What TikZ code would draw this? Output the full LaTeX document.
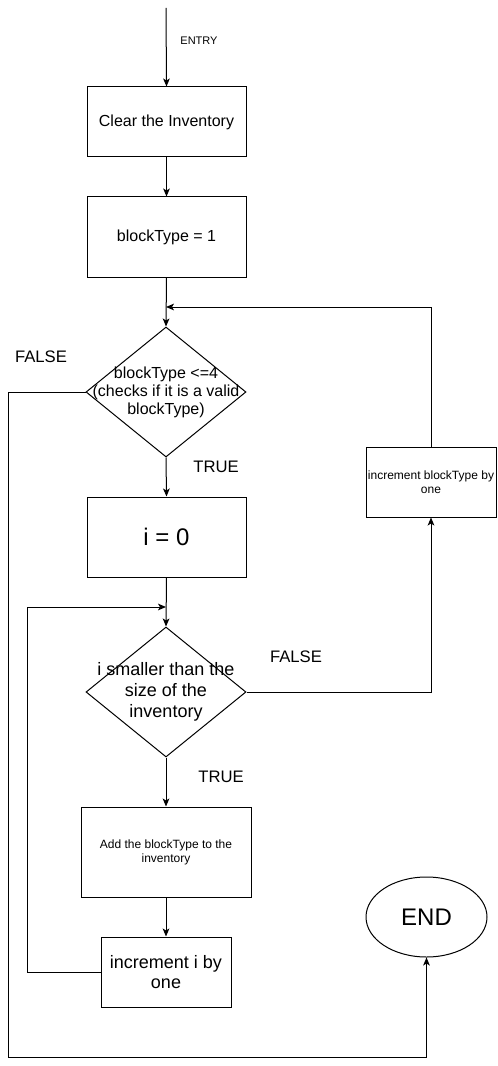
\documentclass[tikz,border=0pt]{standalone}
\usepackage{fontspec}
\setmainfont{Liberation Sans}
\usetikzlibrary{arrows.meta,shapes.geometric}
\begin{document}
\begin{tikzpicture}[x=0.75pt,y=-0.75pt,
  every path/.style={line width=0.75pt},
  conn/.style={draw,line width=0.75pt,-{Stealth[length=6pt,width=5pt,inset=1.5pt]}},
  line/.style={draw,line width=0.75pt},
  box/.style={draw,rectangle,inner sep=0pt,align=center},
  dia/.style={draw,diamond,inner sep=0pt,minimum width=120pt,minimum height=97.5pt},
  lbl/.style={font=\fontsize{12.5}{14}\selectfont,inner sep=0pt}
]
\useasboundingbox (0,0) rectangle (497,1066);
\fill[white] (0,0) rectangle (497,1066);

\coordinate (start) at (166,8);
\node[box,minimum width=119.25pt,minimum height=52.5pt,font=\fontsize{12}{14}\selectfont] (clear) at (166.5,122) {Clear the Inventory};
\node[box,minimum width=119.25pt,minimum height=60pt,font=\fontsize{12}{14}\selectfont] (bt1) at (166.5,237) {blockType = 1};
\node[dia,label={[align=center,font=\fontsize{12}{13.5}\selectfont]center:blockType <=4\\(checks if it is a valid\\blockType)}] (d1) at (166,392) {};
\node[box,minimum width=119.25pt,minimum height=60pt,font=\fontsize{18}{20}\selectfont] (i0) at (166.5,537) {i = 0};
\node[dia,label={[align=center,font=\fontsize{13.5}{15.5}\selectfont]center:i smaller than the\\size of the\\inventory}] (d2) at (166,692) {};
\node[box,minimum width=97.5pt,minimum height=52.5pt,font=\fontsize{9}{10.5}\selectfont] (incbt) at (431,482) {increment blockType by\\one};
\node[box,minimum width=127.5pt,minimum height=67.5pt,font=\fontsize{9}{10.5}\selectfont] (add) at (166,852) {Add the blockType to the\\inventory};
\node[box,minimum width=97.5pt,minimum height=52.5pt,font=\fontsize{13.5}{15.5}\selectfont] (inci) at (166,972) {increment i by\\one};
\node[draw,ellipse,inner sep=0pt,minimum width=90.75pt,minimum height=60pt,font=\fontsize{18}{20}\selectfont] (end) at (426.5,917) {END};

\coordinate (j1) at (166,307);
\coordinate (j2) at (166,607);

\node[font=\fontsize{8.25}{10}\selectfont,inner sep=0pt] (entry) at (199,41) {ENTRY};
\node[lbl] (f1) at (41,357) {FALSE};
\node[lbl] (t1) at (216,467) {TRUE};
\node[lbl] (f2) at (296,657) {FALSE};
\node[lbl] (t2) at (221,777) {TRUE};

\draw[conn] (start) -- (clear.north);
\draw[conn] (clear.south) -- (bt1.north);
\draw[conn] (bt1.south) -- (d1.north);
\draw[conn] (d1.south) -- (i0.north);
\draw[conn] (i0.south) -- (d2.north);
\draw[conn] (d2.south) -- (add.north);
\draw[conn] (add.south) -- (inci.north);
\draw[conn] (incbt.north) |- (j1);
\draw[conn] (d2.east) -| (incbt.south);
\draw[conn] (inci.west) -- (27,972) |- (j2);
\draw[conn] (d1.west) -- (8,392) -- (8,1057) -| (end.south);
\end{tikzpicture}
\end{document}
